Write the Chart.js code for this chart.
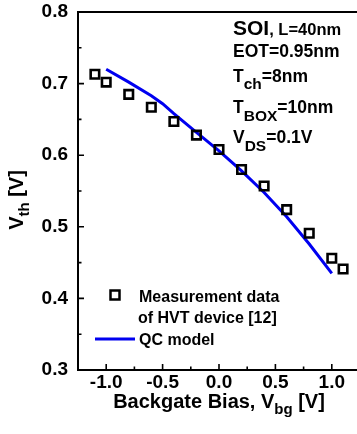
<!DOCTYPE html>
<html><head><meta charset="utf-8">
<script src="https://cdn.jsdelivr.net/npm/chart.js@4.4.0/dist/chart.umd.min.js"></script>
<style>
html,body{margin:0;padding:0;overflow:hidden;background:#fff;width:357px;height:434px}
#wrap{width:362px;height:434px;position:relative}
</style>
</head><body><div id="wrap"><canvas id="c" width="362" height="434" style="width:362px;height:434px"></canvas></div>
<script>
// ---- data ----
const measX = [-1.1, -1.0, -0.8, -0.6, -0.4, -0.2, 0.0, 0.2, 0.4, 0.6, 0.8, 1.0, 1.1];
const measY = [0.713, 0.702, 0.685, 0.667, 0.647, 0.628, 0.608, 0.580, 0.557, 0.524, 0.491, 0.456, 0.441];
const modelX = [-1.0, -0.8, -0.6, -0.5, -0.4, -0.2, 0.0, 0.2, 0.4, 0.6, 0.8, 1.0];
const modelY = [0.720, 0.702, 0.683, 0.672, 0.658, 0.632, 0.606, 0.578, 0.548, 0.514, 0.476, 0.435];
const xMajorTicks = [-1.0, -0.5, 0.0, 0.5, 1.0];
const xMinorTicks = [-0.75, -0.25, 0.25, 0.75];
const yMajorTicks = [0.3, 0.4, 0.5, 0.6, 0.7, 0.8];
const yMinorTicks = [0.35, 0.45, 0.55, 0.65, 0.75];
const legendLabels = ["Measurement data", "of HVT device [12]", "QC model"];

const FAM = '"Liberation Sans", Arial, sans-serif';
const BLUE = '#0000f0';

function drawRuns(ctx, x, y, runs) {
  let cx = x;
  for (const [t, s, dy] of runs) {
    ctx.font = 'bold ' + s + 'px ' + FAM;
    ctx.fillText(t, cx, y + dy);
    cx += ctx.measureText(t).width;
  }
  return cx - x;
}
function runsWidth(ctx, runs) {
  let w = 0;
  for (const [t, s] of runs) { ctx.font = 'bold ' + s + 'px ' + FAM; w += ctx.measureText(t).width; }
  return w;
}

const decor = {
  id: 'decor',
  afterDraw(chart) {
    const ctx = chart.ctx;
    const a = chart.chartArea;
    const xs = chart.scales.x, ys = chart.scales.y;
    ctx.save();
    ctx.strokeStyle = '#000';
    ctx.lineWidth = 2;
    ctx.strokeRect(a.left, a.top, a.right - a.left, a.bottom - a.top);
    ctx.lineWidth = 1.6;
    ctx.beginPath();
    for (const v of xMajorTicks) { const p = xs.getPixelForValue(v); ctx.moveTo(p, a.bottom); ctx.lineTo(p, a.bottom - 6); }
    for (const v of xMinorTicks) { const p = xs.getPixelForValue(v); ctx.moveTo(p, a.bottom); ctx.lineTo(p, a.bottom - 3.5); }
    for (const v of yMajorTicks) { const p = ys.getPixelForValue(v); ctx.moveTo(a.left, p); ctx.lineTo(a.left + 6, p); }
    for (const v of yMinorTicks) { const p = ys.getPixelForValue(v); ctx.moveTo(a.left, p); ctx.lineTo(a.left + 3.5, p); }
    ctx.stroke();

    ctx.fillStyle = '#000';
    ctx.textBaseline = 'alphabetic';
    ctx.textAlign = 'left';
    const xr = [['Backgate Bias, V', 20, 0], ['bg', 15, 6], [' [V]', 20, 0]];
    const xw = runsWidth(ctx, xr);
    drawRuns(ctx, 219 - xw / 2, 408, xr);
    ctx.save();
    ctx.translate(23, 200);
    ctx.rotate(-Math.PI / 2);
    const yr = [['V', 20, 0], ['th', 15, 6], [' [V]', 20, 0]];
    const yw = runsWidth(ctx, yr);
    drawRuns(ctx, -yw / 2, 0, yr);
    ctx.restore();

    drawRuns(ctx, 233, 35, [['SOI', 21, 0], [', L=40nm', 16.5, 0]]);
    drawRuns(ctx, 233, 57, [['EOT=0.95nm', 17.5, 0]]);
    drawRuns(ctx, 233, 82, [['T', 17.5, 0], ['ch', 15.5, 7], ['=8nm', 17.5, 0]]);
    drawRuns(ctx, 233, 113, [['T', 17.5, 0], ['BOX', 15.5, 8], ['=10nm', 17.5, 0]]);
    drawRuns(ctx, 233, 143, [['V', 17.5, 0], ['DS', 15.5, 8], ['=0.1V', 17.5, 0]]);

    ctx.strokeStyle = '#000';
    ctx.lineWidth = 2.5;
    ctx.strokeRect(110.5, 290.5, 9, 9);
    drawRuns(ctx, 139, 302, [[legendLabels[0], 16, 0]]);
    drawRuns(ctx, 138, 323, [[legendLabels[1], 16, 0]]);
    ctx.strokeStyle = BLUE;
    ctx.lineWidth = 3;
    ctx.beginPath(); ctx.moveTo(95, 339); ctx.lineTo(135, 339); ctx.stroke();
    drawRuns(ctx, 139, 345, [[legendLabels[2], 16, 0]]);
    ctx.restore();
  }
};

new Chart(document.getElementById('c'), {
  type: 'scatter',
  data: {
    datasets: [
      {
        label: legendLabels[2],
        data: modelX.map((x, i) => ({ x, y: modelY[i] })),
        showLine: true,
        borderColor: BLUE,
        borderWidth: 3,
        pointRadius: 0,
        tension: 0,
        fill: false,
        order: 2
      },
      {
        label: legendLabels[0],
        data: measX.map((x, i) => ({ x, y: measY[i] })),
        showLine: false,
        pointStyle: 'rect',
        pointRadius: 6,
        pointBorderWidth: 2.6,
        pointBorderColor: '#000',
        pointBackgroundColor: 'rgba(0,0,0,0)',
        borderColor: '#000',
        order: 1
      }
    ]
  },
  options: {
    responsive: false,
    animation: false,
    devicePixelRatio: 1,
    layout: { autoPadding: false, padding: { top: 12, right: 2, left: 0, bottom: 0 } },
    plugins: { legend: { display: false }, tooltip: { enabled: false } },
    scales: {
      x: {
        type: 'linear', min: -1.25, max: 1.25,
        afterBuildTicks: s => { s.ticks = xMajorTicks.map(v => ({ value: v })); },
        afterFit: s => { s.height = 64; s.paddingLeft = 0; s.paddingRight = 0; },
        grid: { display: false, drawTicks: false },
        border: { display: false },
        ticks: { color: '#000', padding: 1, font: { family: FAM, size: 19, weight: 'bold' }, callback: v => v.toFixed(1), maxRotation: 0 }
      },
      y: {
        type: 'linear', min: 0.3, max: 0.8,
        afterBuildTicks: s => { s.ticks = yMajorTicks.map(v => ({ value: v })); },
        afterFit: s => { s.width = 78; s.paddingTop = 0; s.paddingBottom = 0; },
        grid: { display: false, drawTicks: false },
        border: { display: false },
        ticks: { color: '#000', padding: 10, font: { family: FAM, size: 19, weight: 'bold' }, callback: v => v.toFixed(1) }
      }
    }
  },
  plugins: [decor]
});
</script>
</body></html>
